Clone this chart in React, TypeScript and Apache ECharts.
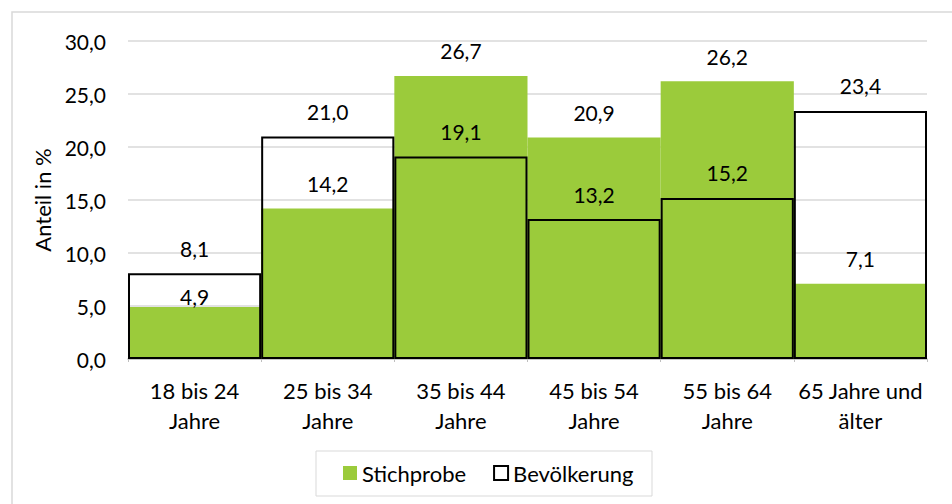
import React, { useEffect, useRef } from "react";
import * as echarts from "echarts";

// Age groups shown on the x axis
const categories: string[] = [
  "18 bis 24\nJahre",
  "25 bis 34\nJahre",
  "35 bis 44\nJahre",
  "45 bis 54\nJahre",
  "55 bis 64\nJahre",
  "65 Jahre und\nälter",
];

// Shares in percent
const stichprobe: number[] = [4.9, 14.2, 26.7, 20.9, 26.2, 7.1];
const bevoelkerung: number[] = [8.1, 21.0, 19.1, 13.2, 15.2, 23.4];

const seriesNames: string[] = ["Stichprobe", "Bevölkerung"];

const FONT = "Lato, 'Open Sans', sans-serif";
const GREEN = "#9BCB3B";
const NUM_SIZE = 21;
const TEXT_SIZE = 22;
const fmt = (v: number) => v.toFixed(1).replace(".", ",");

export default function App() {
  const ref = useRef<HTMLDivElement>(null);

  useEffect(() => {
    if (!ref.current) return;
    const chart = echarts.init(ref.current, undefined, { renderer: "svg" });

    const labelBase = {
      show: true,
      position: "top" as const,
      distance: 15,
      color: "#000",
      fontFamily: FONT,
      fontSize: NUM_SIZE,
      lineHeight: 20,
      formatter: (p: any) => fmt(p.value),
    };

    chart.setOption({
      animation: false,
      backgroundColor: "#fff",
      textStyle: { fontFamily: FONT, color: "#000" },
      grid: { left: 128, right: 25, top: 41, bottom: 145, containLabel: false },
      graphic: [
        {
          type: "rect",
          shape: { x: 12, y: 12, width: 980, height: 540 },
          style: { fill: "none", stroke: "#D9D9D9", lineWidth: 1.5 },
          silent: true,
          z: -10,
        },
        {
          type: "rect",
          shape: { x: 316, y: 451, width: 336, height: 45 },
          style: { fill: "none", stroke: "#D9D9D9", lineWidth: 1 },
          silent: true,
        },
      ],
      legend: {
        left: 343,
        top: 462,
        padding: 0,
        itemWidth: 14,
        itemHeight: 14,
        itemGap: 27,
        icon: "rect",
        textStyle: { fontFamily: FONT, fontSize: TEXT_SIZE, lineHeight: 22, color: "#000" },
        data: seriesNames,
      },
      xAxis: {
        type: "category",
        data: categories,
        axisLine: { lineStyle: { color: "#BFBFBF", width: 1.5 } },
        axisTick: { show: true, length: 3, lineStyle: { color: "#BFBFBF" } },
        axisLabel: {
          color: "#000",
          fontFamily: FONT,
          fontSize: TEXT_SIZE,
          lineHeight: 30,
          margin: 16,
          interval: 0,
        },
      },
      yAxis: {
        type: "value",
        min: 0,
        max: 30,
        interval: 5,
        name: "Anteil in %",
        nameLocation: "middle",
        nameGap: 75,
        nameTextStyle: { fontFamily: FONT, fontSize: TEXT_SIZE, color: "#000" },
        axisLine: { show: false },
        axisTick: { show: false },
        axisLabel: {
          color: "#000",
          fontFamily: FONT,
          fontSize: NUM_SIZE,
          margin: 22,
          formatter: (v: number) => fmt(v),
        },
        splitLine: { lineStyle: { color: "#D9D9D9", width: 1.5 } },
      },
      series: [
        {
          name: seriesNames[0],
          type: "bar",
          data: stichprobe.map((v, i) =>
            i === 0 ? { value: v, label: { distance: 1 } } : v
          ),
          barWidth: "100%",
          barGap: "-100%",
          barCategoryGap: 0,
          itemStyle: { color: GREEN },
          label: labelBase,
          z: 2,
        },
        {
          name: seriesNames[1],
          type: "bar",
          data: bevoelkerung,
          barWidth: "100%",
          barGap: "-100%",
          barCategoryGap: 0,
          itemStyle: { color: "rgba(0,0,0,0)", borderColor: "#000", borderWidth: 2 },
          label: labelBase,
          z: 3,
        },
      ],
    });

    return () => chart.dispose();
  }, []);

  return (
    <div
      ref={ref}
      style={{ position: "fixed", left: 0, top: 0, width: 952, height: 504 }}
    />
  );
}
